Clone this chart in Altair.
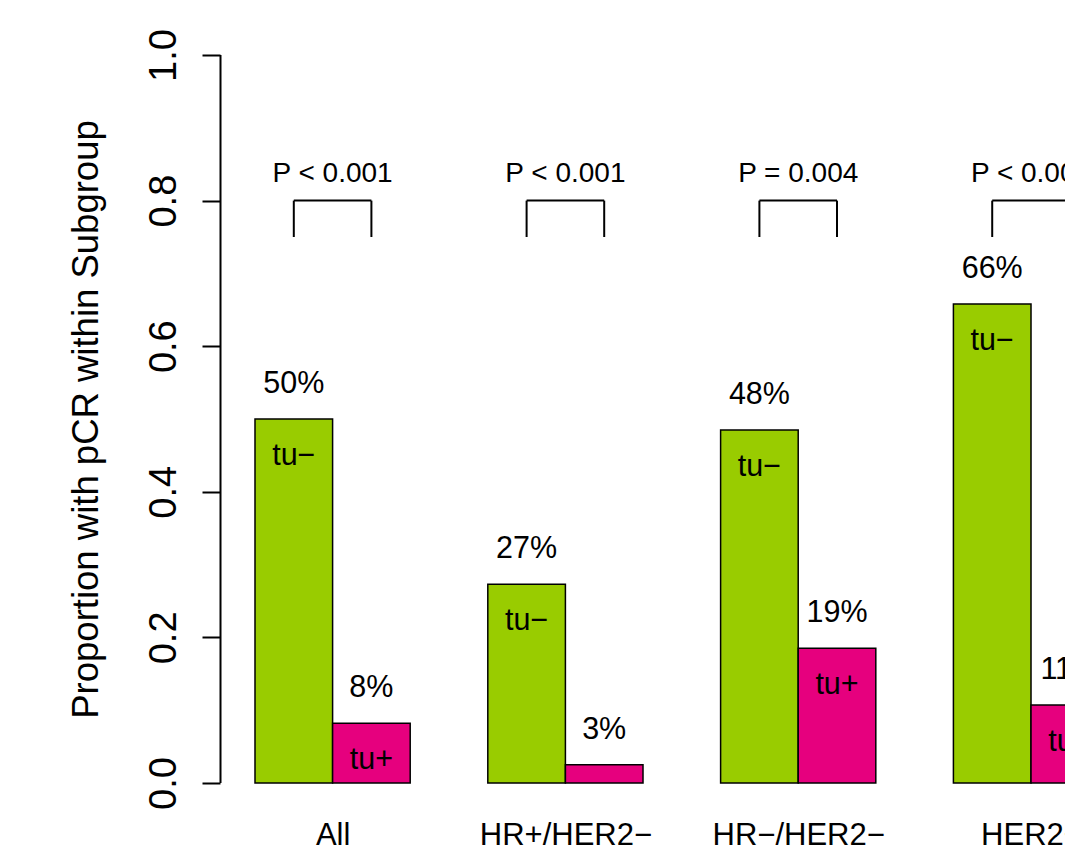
import altair as alt
import pandas as pd

# ---- data ----
categories = ["All", "HR+/HER2\u2212", "HR\u2212/HER2\u2212", "HER2+"]
series = ["tu\u2212", "tu+"]
tu_neg = [0.500, 0.273, 0.485, 0.658]
tu_pos = [0.082, 0.025, 0.185, 0.107]
pct_neg = ["50%", "27%", "48%", "66%"]
pct_pos = ["8%", "3%", "19%", "11%"]
p_values = ["P < 0.001", "P < 0.001", "P = 0.004", "P < 0.001"]
y_ticks = [0.0, 0.2, 0.4, 0.6, 0.8, 1.0]
bracket_low, bracket_high = 0.75, 0.80
p_text_y = 0.826
y_title = "Proportion with pCR within Subgroup"

colors = ["#99CC00", "#E6007E"]
FONT = "Liberation Sans"

# ---- R barplot layout (beside=TRUE, space=c(0,1)): bar width 1, gap 1 between groups ----
rows = []
for g, cat in enumerate(categories):
    for j, (s, vals, labs) in enumerate(zip(series, [tu_neg, tu_pos], [pct_neg, pct_pos])):
        left = 1 + 3 * g + j
        rows.append(dict(cat=cat, series=s, value=vals[g], pct=labs[g],
                         x0=left, x1=left + 1, xc=left + 0.5, zero=0.0))
bars = pd.DataFrame(rows)

groups = pd.DataFrame(dict(
    cat=categories,
    p=p_values,
    xm=[2 + 3 * g for g in range(len(categories))],
    xg=[1.5 + 3 * g for g in range(len(categories))],
    xp=[2.5 + 3 * g for g in range(len(categories))],
    lo=bracket_low, hi=bracket_high, py=p_text_y,
))
vert = pd.concat([
    groups[["xg", "lo", "hi"]].rename(columns={"xg": "x"}),
    groups[["xp", "lo", "hi"]].rename(columns={"xp": "x"}),
])

W, H = 845, 840
x_dom = [0.549, 11.438]
y_dom = [-0.0893, 1.0646]

label_expr = " : ".join(
    f"datum.value == {2 + 3 * g} ? '{c}'" for g, c in enumerate(categories)
) + " : ''"

xs = alt.Scale(domain=x_dom, nice=False, zero=False)
ys = alt.Scale(domain=y_dom, nice=False, zero=False)

x_axis = alt.Axis(values=[2 + 3 * g for g in range(len(categories))], labelExpr=label_expr,
                  domain=False, ticks=False, tickSize=0, grid=False, title=None,
                  labelFontSize=31, labelFont=FONT, labelColor="black",
                  labelPadding=61, labelBaseline="alphabetic", offset=-65,
                  labelFlush=False, labelOverlap=False, labelBound=False)
y_axis = alt.Axis(values=y_ticks, format=".1f", domain=False, grid=False,
                  tickSize=18, tickWidth=2, tickColor="black",
                  labelAngle=270, labelAlign="center", labelBaseline="alphabetic",
                  labelPadding=27, labelFontSize=38, labelFont=FONT, labelColor="black",
                  labelFlush=False, labelOverlap=False,
                  title=y_title, titleFontSize=36.5, titleFont=FONT, titleColor="black",
                  titleFontWeight="normal", titleAngle=270, titleX=-123, titleY=411,
                  titleAlign="center", titleBaseline="alphabetic")

base = alt.Chart(bars)

rects = base.mark_rect(stroke="black", strokeWidth=1.5, clip=True).encode(
    x=alt.X("x0:Q", scale=xs, axis=x_axis),
    x2="x1:Q",
    y=alt.Y("value:Q", scale=ys, axis=y_axis),
    y2="zero:Q",
    color=alt.Color("series:N", scale=alt.Scale(domain=series, range=colors), legend=None),
)

pct = base.mark_text(font=FONT, fontSize=30.5, color="black", baseline="alphabetic",
                     align="center", dy=-26, clip=True).encode(
    x=alt.X("xc:Q", scale=xs), y=alt.Y("value:Q", scale=ys), text="pct:N")

inside = base.transform_filter("datum.value > 0.05").mark_text(
    font=FONT, fontSize=30.5, color="black", baseline="alphabetic",
    align="center", dy=46, clip=True).encode(
    x=alt.X("xc:Q", scale=xs), y=alt.Y("value:Q", scale=ys), text="series:N")

gbase = alt.Chart(groups)
ptext = gbase.mark_text(font=FONT, fontSize=28, color="black", baseline="alphabetic",
                        align="center", clip=True).encode(
    x=alt.X("xm:Q", scale=xs), y=alt.Y("py:Q", scale=ys), text="p:N")

hrule = gbase.mark_rule(color="black", strokeWidth=2, clip=True).encode(
    x=alt.X("xg:Q", scale=xs), x2="xp:Q", y=alt.Y("hi:Q", scale=ys))

vrule = alt.Chart(vert).mark_rule(color="black", strokeWidth=2, clip=True).encode(
    x=alt.X("x:Q", scale=xs), y=alt.Y("lo:Q", scale=ys), y2="hi:Q")

yline = alt.Chart(pd.DataFrame(dict(a=[0.0], b=[1.0]))).mark_rule(
    color="black", strokeWidth=2).encode(
    x=alt.value(0.5), y=alt.Y("a:Q", scale=ys), y2="b:Q")

chart = alt.layer(rects, pct, inside, ptext, hrule, vrule, yline).properties(
    width=W, height=H,
    autosize=alt.AutoSizeParams(type="none"),
    padding={"left": 212, "top": 0, "right": 0, "bottom": 0},
).configure_view(stroke=None).configure_text(font=FONT)

chart.save("out.html", embed_options={"renderer": "svg", "actions": False})
